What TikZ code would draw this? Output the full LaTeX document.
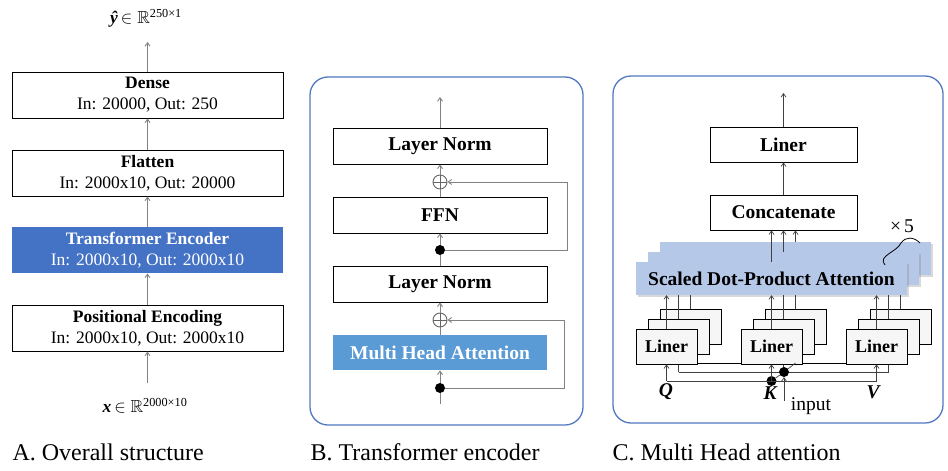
\documentclass[tikz,border=0pt]{standalone}
\usepackage{fontspec}
\setmainfont{Liberation Serif}
\usepackage{amsmath,amssymb}
\usetikzlibrary{arrows.meta,positioning,shadows,calc,backgrounds}
\definecolor{encblue}{RGB}{68,114,196}
\definecolor{mhablue}{RGB}{91,155,213}
\definecolor{sdpablue}{RGB}{182,200,232}
\definecolor{frameblue}{RGB}{82,120,192}
\definecolor{wiregray}{RGB}{130,130,130}
\definecolor{linerfill}{RGB}{246,246,246}
\tikzset{
  ablk/.style={draw=black,line width=0.9pt,fill=white,minimum width=271,minimum height=46,
    inner sep=0pt,align=center,font=\fontsize{17.5}{21}\selectfont},
  bblk/.style={draw=black,line width=0.8pt,fill=white,minimum width=214,minimum height=36,
    inner sep=0pt,font=\fontsize{19.5}{22}\selectfont\bfseries},
  cblk/.style={bblk,minimum width=147,minimum height=35},
  sdpa/.style={fill=sdpablue,minimum width=271,minimum height=33,inner sep=0pt,
    font=\fontsize{19.5}{22}\selectfont\bfseries,
    drop shadow={shadow xshift=2pt,shadow yshift=-1.5pt,opacity=.3}},
  liner/.style={draw=black,line width=0.7pt,fill=linerfill,minimum width=61,minimum height=35,
    inner sep=0pt,font=\fontsize{18}{20}\selectfont\bfseries},
  sumnode/.style={circle,draw=black!60,line width=0.9pt,minimum size=14,inner sep=0pt,
    path picture={\draw[black!60,line width=0.9pt] (path picture bounding box.north) -- (path picture bounding box.south)
      (path picture bounding box.west) -- (path picture bounding box.east);}},
  dotnode/.style={circle,fill=black,minimum size=10,inner sep=0pt},
  wire/.style={draw=wiregray,line width=0.9pt},
  arr/.style={wire,-{Straight Barb[length=3.5pt,width=5pt]}},
  cwire/.style={draw=black!75,line width=0.7pt},
  carr/.style={cwire,-{Straight Barb[length=3.5pt,width=5pt]}},
  lbl/.style={font=\fontsize{17.5}{21}\selectfont},
  qkv/.style={font=\fontsize{19.5}{22}\selectfont\bfseries\itshape},
  captxt/.style={anchor=west,font=\fontsize{24}{28}\selectfont},
  frm/.style={draw=frameblue,line width=1.3pt,rounded corners=18}
}
\begin{document}
\begin{tikzpicture}[x=1pt,y=-1pt]
  \useasboundingbox (0,0) rectangle (948,471);

  \node[ablk] (dense) at (147.5,95) {\textbf{Dense}\\In: 20000, Out: 250};
  \node[ablk] (flat) at (147.5,173) {\textbf{Flatten}\\In: 2000x10, Out: 20000};
  \node[ablk,fill=encblue,draw=none,text=white] (enc) at (147.5,250) {\textbf{Transformer Encoder}\\In: 2000x10, Out: 2000x10};
  \node[ablk] (pos) at (147.5,328) {\textbf{Positional Encoding}\\In: 2000x10, Out: 2000x10};
  \node[lbl] (yhat) at (146,18) {\textbf{\textit{ŷ}}\,$\in\mathbb{R}^{\text{250×1}}$};
  \node[lbl] (xin) at (145,406) {\textbf{\textit{x}}\,$\in\mathbb{R}^{\text{2000×10}}$};
  \coordinate (atop) at (147.5,42);
  \coordinate (abot) at (147.5,383);
  \draw[arr] (dense) -- (atop);
  \draw[arr] (flat) -- (dense);
  \draw[arr] (enc) -- (flat);
  \draw[arr] (pos) -- (enc);
  \draw[arr] (abot) -- (pos);
  \node[captxt] (capA) at (9,452) {A. Overall structure};

  \draw[frm] (310,77) rectangle (583,425);
  \node[bblk] (ln2) at (440,146) {Layer Norm};
  \node[sumnode] (add2) at (440,182) {};
  \node[bblk] (ffn) at (440,215) {FFN};
  \node[dotnode] (br2) at (440,250) {};
  \node[bblk] (ln1) at (440,284) {Layer Norm};
  \node[sumnode] (add1) at (440,320) {};
  \node[bblk,fill=mhablue,draw=none,text=white,minimum height=35] (mha) at (440,352.5) {Multi Head Attention};
  \node[dotnode] (br1) at (440,388) {};
  \coordinate (btop) at (440,97);
  \coordinate (bbot) at (440,404);
  \coordinate (skip2) at (567,250);
  \coordinate (skip1) at (564,388);
  \draw[arr] (ln2) -- (btop);
  \draw[arr] (add2) -- (ln2);
  \draw[wire] (ffn) -- (add2);
  \draw[arr] (br2) -- (ffn);
  \draw[wire] (ln1) -- (br2);
  \draw[arr] (add1) -- (ln1);
  \draw[wire] (mha) -- (add1);
  \draw[arr] (br1) -- (mha);
  \draw[wire] (bbot) -- (br1);
  \draw[arr] (br2) -- (skip2) |- (add2);
  \draw[arr] (br1) -- (skip1) |- (add1);
  \node[captxt] (capB) at (307,452) {B. Transformer encoder};

  \draw[frm] (613,76) rectangle (943,423);
  \node[cblk] (lin) at (783.5,144.5) {Liner};
  \node[cblk] (cat) at (783.5,212.5) {Concatenate};
  \node[sdpa] (sdpa3) at (795.5,258.5) {};
  \node[sdpa] (sdpa2) at (783.5,268.5) {};
  \node[sdpa] (sdpa1) at (771.5,278.5) {Scaled Dot-Product Attention};
  \foreach \nm/\cx in {q/666.5,k/771.5,v/876.5}
    \foreach \j in {3,2,1}
      \node[liner] (l\nm\j) at ({\cx+12*(\j-1)},{346.5-10*(\j-1)}) {\ifnum\j=1 Liner\fi};
  \node[dotnode] (kdot) at (771.5,381) {};
  \node[dotnode] (idot) at (784,372) {};
  \coordinate (ctop) at (783.5,93);
  \coordinate (brow) at (784,363);
  \coordinate (itail) at (784,401);
  \draw[carr] (lin) -- (ctop);
  \draw[carr] (cat) -- (lin);
  \foreach \i in {1,2,3}
    \draw[carr] (sdpa\i.north) -- (sdpa\i.north |- cat.south);
  \foreach \nm in {q,k,v} {
    \draw[carr] (l\nm1.north) -- (l\nm1.north |- sdpa1.south);
    \draw[cwire] (l\nm2.north) -- (l\nm2.north |- sdpa1.south);
    \draw[cwire] (l\nm3.north) -- (l\nm3.north |- sdpa1.south);
  }
  \begin{scope}[on background layer]
    \draw[cwire,draw=black,line width=1pt] (lq3.south |- brow) -- (lv3.south |- brow);
    \foreach \nm in {q,k,v} \draw[cwire] (l\nm3.south |- brow) -- (l\nm3.south);
    \draw[cwire] (lq2.south |- idot) -- (lv2.south |- idot);
    \foreach \nm in {q,k,v} \draw[cwire] (l\nm2.south |- idot) -- (l\nm2.south);
  \end{scope}
  \draw[cwire] (lq1.south |- kdot) -- (lv1.south |- kdot);
  \foreach \nm in {q,k,v} \draw[carr] (l\nm1.south |- kdot) -- (l\nm1.south);
  \draw[cwire] (kdot) -- (idot) -- (lk3.south |- brow);
  \draw[carr] (itail) -- (idot);
  \node[qkv] (qlbl) at (666,392) {Q};
  \node[qkv] (klbl) at (770,393) {K};
  \node[qkv] (vlbl) at (873,392) {V};
  \node[lbl,font=\fontsize{19.5}{22}\selectfont] (inlbl) at (811,406) {input};
  \node[lbl,font=\fontsize{19.5}{22}\selectfont] (rep) at (902,226) {×\,5};
  \draw[line width=0.8pt] (885,265) .. controls (877,256) and (897,252) .. (901,243)
    .. controls (906,236) and (914,237) .. (920,243);
  \node[captxt] (capC) at (609,452) {C. Multi Head attention};
\end{tikzpicture}
\end{document}
